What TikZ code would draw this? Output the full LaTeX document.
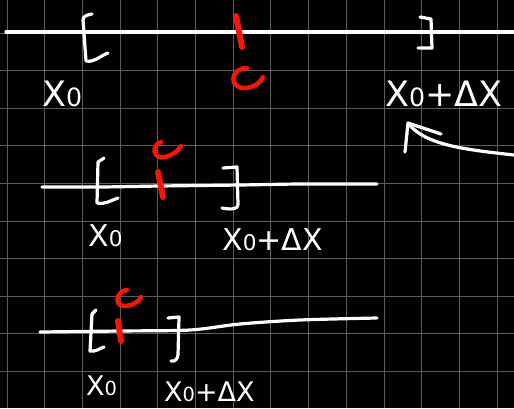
\documentclass[tikz,border=0pt]{standalone}
\usepackage{fontspec}
\setmainfont{DejaVu Sans}
\usepackage{xcolor}
\definecolor{chalkred}{RGB}{245,22,10}
\definecolor{boardgrid}{RGB}{92,92,92}
\usepackage{tikz}
\newcommand{\zerosub}{\scalebox{0.72}{0}}

\begin{document}
\begin{tikzpicture}[x=1pt, y=-1pt,
  chalk/.style={draw=white, line width=3.2pt, line cap=round, line join=round},
  redtick/.style={draw=chalkred, line width=6pt, line cap=round},
  redc/.style={draw=chalkred, line width=4.5pt, line cap=round},
  gridline/.style={draw=boardgrid, line width=0.9pt},
  pointlabel/.style={text=white, inner sep=0pt, anchor=base west},
  bigtext/.style={font=\fontsize{35}{35}\selectfont},
  midtext/.style={font=\fontsize{30}{30}\selectfont},
  smalltext/.style={font=\fontsize{27}{27}\selectfont}
]

% Board
\fill[black] (0,0) rectangle (514,408);
\useasboundingbox (0,0) rectangle (514,408);
\foreach \k in {0,...,13}
  \draw[gridline] (7+37.7*\k,0) -- (7+37.7*\k,408);
\foreach \k in {0,...,9}
  \draw[gridline] (0,33+37.6*\k) -- (514,33+37.6*\k);

% Top interval
\draw[chalk] (6,32) -- (514,32);
\draw[chalk] (92,14) to[out=190,in=90] (83,20) -- (86,61) to[out=-10,in=200] (108,53);
\draw[chalk] (420,17) -- (431,19) -- (432,48) -- (418,48);
\draw[redtick] (236,16) -- (242,47);
\draw[redc] (247,68) .. controls (230,68) and (228,89) .. (246,88) .. controls (255,87) and (261,82) .. (263,77);
\node[pointlabel, bigtext] (xtop) at (42,106) {X\zerosub};
\node[pointlabel, bigtext] (xdtop) at (385,106) {X\zerosub+ΔX};

% Arrow
\coordinate (tail) at (514,155);
\coordinate (tip) at (408,123);
\coordinate (headl) at (405,152);
\coordinate (headr) at (441,134);
\draw[chalk] (tail) .. controls (470,150) and (425,146) .. (tip);
\draw[chalk] (headl) -- (tip) -- (headr);

% Middle interval
\draw[chalk] plot[smooth] coordinates {(42,187) (100,187) (160,186) (240,185) (300,184) (377,184)};
\draw[chalk] (104,158) -- (98,162) -- (97,203) to[out=-10,in=200] (118,198);
\draw[chalk] (223,168) -- (237,167) -- (238,204) to[out=-90,in=-10] (222,208);
\draw[redtick] (158,172) -- (163,197);
\draw[redc] (161,142) .. controls (150,146) and (154,160) .. (165,157) .. controls (172,155) and (178,152) .. (181,146);
\node[pointlabel, midtext] (xmid) at (88,246) {X\zerosub};
\node[pointlabel, midtext] (xdmid) at (222,250) {X\zerosub+ΔX};

% Bottom interval
\draw[chalk] plot[smooth] coordinates {(40,332) (120,331) (190,330) (240,324) (300,320) (377,318)};
\draw[chalk] (96,310) -- (92,314) -- (90,351) to[out=-10,in=200] (104,347);
\draw[chalk] (168,318) -- (179,317) -- (178,355) to[out=-90,in=-20] (171,361);
\draw[redtick] (118,321) -- (121,341);
\draw[redc] (127,290) .. controls (116,291) and (114,306) .. (124,306) .. controls (132,306) and (139,302) .. (141,297);
\node[pointlabel, smalltext] (xbot) at (86,395) {X\zerosub};
\node[pointlabel, smalltext] (xdbot) at (164,401) {X\zerosub+ΔX};

\end{tikzpicture}
\end{document}
